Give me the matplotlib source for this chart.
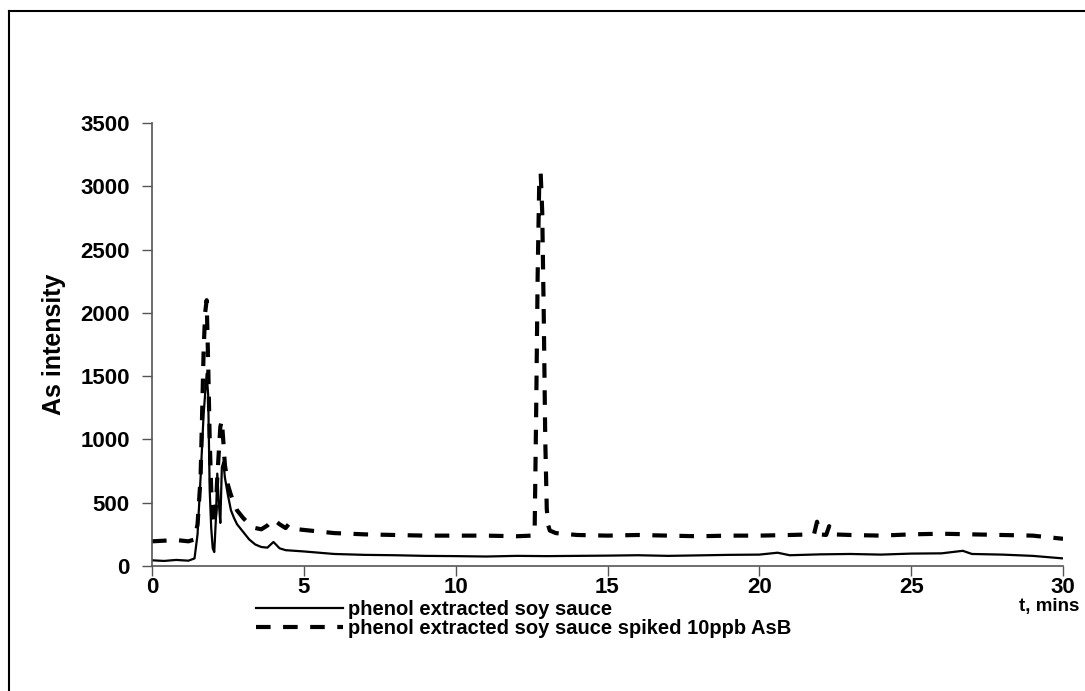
import matplotlib
matplotlib.use('Agg')
import matplotlib.pyplot as plt
from matplotlib.lines import Line2D

plt.rcParams['font.family'] = ['Liberation Sans', 'DejaVu Sans']
plt.rcParams['font.weight'] = 'bold'

# phenol extracted soy sauce (solid trace)
t_soy = [0.0, 0.4, 0.8, 1.2, 1.4, 1.5, 1.6, 1.7, 1.8, 1.85, 1.9, 1.95, 2.0, 2.05,
         2.1, 2.15, 2.2, 2.25, 2.3, 2.35, 2.4, 2.5, 2.6, 2.7, 2.8, 3.0, 3.2, 3.4,
         3.6, 3.8, 4.0, 4.2, 4.4, 4.7, 5.0, 5.5, 6.0, 7.0, 8.0, 9.0, 10.0, 11.0,
         12.0, 13.0, 14.0, 15.0, 16.0, 17.0, 18.0, 19.0, 20.0, 20.6, 21.0, 22.0,
         23.0, 24.0, 25.0, 26.0, 26.7, 27.0, 28.0, 29.0, 30.0]
y_soy = [45, 40, 48, 42, 60, 250, 700, 1200, 1520, 1350, 600, 300, 140, 110,
         350, 730, 500, 340, 780, 820, 700, 560, 440, 380, 330, 270, 210, 170,
         150, 145, 190, 140, 125, 120, 115, 105, 95, 88, 85, 80, 78, 75,
         80, 78, 80, 82, 85, 80, 84, 88, 90, 105, 85, 92,
         95, 90, 98, 100, 120, 95, 90, 80, 60]

# phenol extracted soy sauce spiked 10ppb AsB (dashed trace)
t_spk = [0.0, 0.4, 0.8, 1.2, 1.4, 1.5, 1.6, 1.65, 1.7, 1.75, 1.8, 1.85, 1.9, 1.95,
         2.0, 2.05, 2.1, 2.15, 2.2, 2.25, 2.3, 2.35, 2.4, 2.5, 2.6, 2.7, 2.8, 3.0,
         3.2, 3.4, 3.6, 3.8, 4.0, 4.2, 4.4, 4.5, 4.8, 5.2, 5.6, 6.0, 7.0, 8.0,
         9.0, 10.0, 11.0, 12.0, 12.5, 12.6, 12.65, 12.7, 12.75, 12.8, 12.85, 12.9,
         12.95, 13.0, 13.05, 13.1, 13.3, 14.0, 15.0, 16.0, 17.0, 18.0, 19.0, 20.0,
         21.0, 21.8, 21.9, 22.0, 22.2, 22.3, 22.4, 23.0, 24.0, 25.0, 26.0, 27.0,
         28.0, 29.0, 30.0]
y_spk = [195, 200, 205, 195, 210, 330, 700, 1200, 1700, 2000, 2100, 1600, 1000, 600,
         380, 320, 450, 700, 900, 1100, 1150, 980, 800, 640, 560, 500, 440, 380,
         330, 300, 290, 320, 370, 330, 300, 330, 290, 280, 270, 260, 250, 245,
         240, 240, 240, 235, 240, 260, 1200, 2300, 3000, 3100, 2800, 2000,
         1000, 450, 320, 280, 260, 245, 240, 245, 240, 235, 240, 240,
         245, 250, 350, 250, 245, 315, 250, 245, 240, 250, 255, 250,
         245, 240, 215]


def chromatogram():
    fig = plt.figure(figsize=(10.85, 6.91), dpi=100)
    ax = fig.add_axes([152 / 1085, 125 / 691, 911 / 1085, 443 / 691])

    ax.plot(t_soy, y_soy, color='black', lw=1.6,
            label='phenol extracted soy sauce')
    ax.plot(t_spk, y_spk, color='black', lw=3, dashes=(3.5, 3),
            label='phenol extracted soy sauce spiked 10ppb AsB')

    ax.set_xlim(0, 30)
    ax.set_ylim(0, 3500)
    ax.set_xticks(range(0, 31, 5))
    ax.set_yticks(range(0, 3501, 500))
    ax.tick_params(direction='out', length=7, width=1, color='#555555',
                   labelsize=16)
    ax.tick_params(axis='x', pad=1)
    ax.tick_params(axis='y', pad=9)
    for s in ['top', 'right']:
        ax.spines[s].set_visible(False)
    for s in ['left', 'bottom']:
        ax.spines[s].set_color('#555555')
        ax.spines[s].set_linewidth(1.2)

    ax.set_ylabel('As intensity', fontsize=18, fontweight='bold', labelpad=10)
    fig.text(1079 / 1085, 1 - 607 / 691, 't, mins', fontsize=13.5,
             fontweight='bold', ha='right', va='center')

    ax.legend(loc='upper left', bbox_to_anchor=(256 / 1085, 1 - 600 / 691),
              bbox_transform=fig.transFigure, frameon=False, fontsize=14.5,
              handlelength=4.3, handletextpad=0.25, labelspacing=0.0,
              borderpad=0, borderaxespad=0)

    # frame round the chart area
    fig.add_artist(Line2D([9 / 1085, 9 / 1085], [0, 1 - 11 / 691],
                          transform=fig.transFigure, color='black', lw=1.5))
    fig.add_artist(Line2D([9 / 1085, 1], [1 - 11 / 691, 1 - 11 / 691],
                          transform=fig.transFigure, color='black', lw=1.5))

    plt.savefig('out.png', dpi=100)


if __name__ == '__main__':
    chromatogram()
